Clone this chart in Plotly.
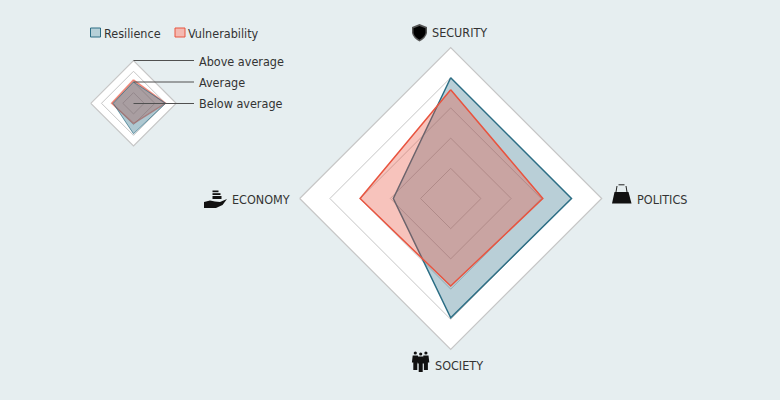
import plotly.graph_objects as go

AXES = ["SECURITY", "POLITICS", "SOCIETY", "ECONOMY"]
RESILIENCE = [4.0, 4.0, 3.95, 1.9]
VULNERABILITY = [3.6, 3.05, 2.9, 3.0]
KEY_RESILIENCE = [2.0, 3.0, 2.85, 1.9]
KEY_VULNERABILITY = [2.2, 3.0, 1.9, 2.05]
RINGS = [1, 2, 3, 4]
KEY_RINGS = [1, 2, 3]
LEGEND_NAMES = ["Resilience", "Vulnerability"]
KEY_LABELS = ["Above average", "Average", "Below average"]

W, H = 780, 400
BG = "#e6eef0"
BLUE = "#2c6e85"
RED = "#e8543f"
TEXT = "#333333"
FONT = "'DejaVu Sans Condensed', 'DejaVu Sans'"


def px_domain(cx, cy, r):
    # polar subplot box from pixel centre and radius
    return {
        "x": [(cx - r) / W, (cx + r) / W],
        "y": [1 - (cy + r) / H, 1 - (cy - r) / H],
    }


def polar_layout(cx, cy, r, top, rings):
    return dict(
        domain=px_domain(cx, cy, r),
        bgcolor="white",
        gridshape="linear",
        radialaxis=dict(
            range=[0, top],
            tickvals=rings,
            showticklabels=False,
            ticks="",
            showline=False,
            gridcolor="#c6c6c6",
            gridwidth=1.2,
        ),
        angularaxis=dict(
            categoryorder="array",
            categoryarray=AXES,
            direction="clockwise",
            rotation=90,
            showticklabels=False,
            ticks="",
            showgrid=False,
            linecolor="#c6c6c6",
            linewidth=1.2,
        ),
    )


def area(values, color, fill, subplot, width):
    return go.Scatterpolar(
        r=values + values[:1],
        theta=AXES + AXES[:1],
        mode="lines",
        fill="toself",
        fillcolor=fill,
        line={"color": color, "width": width},
        subplot=subplot,
        showlegend=False,
        hoverinfo="skip",
    )


def label(text, x, y, size=12.5, anchor="left"):
    return dict(
        text=text,
        x=x,
        y=y,
        xref="x",
        yref="y",
        xanchor=anchor,
        yanchor="middle",
        showarrow=False,
        font={"size": size, "color": TEXT, "family": FONT},
    )


def icon(path, fill="#111111", line=None, width=0):
    return dict(
        type="path",
        path=path,
        xref="x",
        yref="y",
        fillcolor=fill,
        line={"color": line or fill, "width": width},
    )


def poly(*points):
    return "M" + " L".join(f"{x} {y}" for x, y in points) + " Z"


def head(cx, cy, r=1.6):
    return dict(type="circle", x0=cx - r, x1=cx + r, y0=cy - r, y1=cy + r,
                xref="x", yref="y", fillcolor="#111111", line={"width": 0})


def person(cx, top, bottom, half):
    return icon(poly(
        (cx - half, top), (cx + half, top), (cx + half + 0.8, top + 7),
        (cx + half - 0.6, top + 7), (cx + half - 0.6, bottom),
        (cx - half + 0.6, bottom), (cx - half + 0.6, top + 7), (cx - half - 0.8, top + 7),
    ))


fig = go.Figure()
fig.add_trace(area(RESILIENCE, BLUE, "rgba(44,110,133,0.33)", "polar", 1.5))
fig.add_trace(area(VULNERABILITY, RED, "rgba(232,84,63,0.35)", "polar", 1.5))
# the key is drawn red first, its overlap comes out greyer
fig.add_trace(area(KEY_VULNERABILITY, "rgba(232,84,63,0.6)", "rgba(232,84,63,0.4)", "polar2", 1.5))
fig.add_trace(area(KEY_RESILIENCE, "rgba(44,110,133,0.7)", "rgba(44,110,133,0.38)", "polar2", 1))

# icons, in pixel coordinates on the hidden overlay axes
shapes = [
    # shield
    icon("M419.5 24 L427 27 L427 33 Q426 38 419.5 41.5 Q413 38 412 33 L412 27 Z", "#555555"),
    icon("M419.5 26 L425.5 28.2 L425.5 33 Q424.5 37 419.5 39.8 Q414.5 37 413.5 33 L413.5 28.2 Z", "#000000"),
    # bag
    icon(poly((614.5, 192), (628.5, 192), (631.5, 203.5), (612, 203.5))),
    icon("M616 192 L617 186 M627 192 L626 186 M618.5 184.8 L624.5 184.8", "rgba(0,0,0,0)", "#222222", 1),
    # hand with coins
    icon(poly((204, 202), (210, 200.5), (215, 201.5), (220, 202), (227, 199), (222.5, 205), (216, 208), (204, 208))),
    icon(poly((212.5, 190.5), (218.5, 190.5), (218.5, 192.2), (212.5, 192.2))),
    icon(poly((212.5, 193.2), (220.5, 193.2), (220.5, 195), (212.5, 195))),
    icon(poly((212.5, 196), (221.5, 196), (221.5, 199), (212.5, 199))),
    # people
    person(415.3, 355.5, 370, 2.6),
    person(425.9, 355.5, 370, 2.6),
    person(420.7, 356.5, 372, 2.6),
    head(415.3, 353),
    head(425.9, 353),
    head(420.7, 354),
]

# legend swatches
shapes.append(dict(type="rect", x0=90.5, x1=100.5, y0=28, y1=37, xref="x", yref="y",
                   fillcolor="#b6d0d8", line={"color": BLUE, "width": 1}))
shapes.append(dict(type="rect", x0=175, x1=185, y0=28, y1=37, xref="x", yref="y",
                   fillcolor="#f4b9b1", line={"color": RED, "width": 1}))

# key leader lines
for y in [60.5, 82, 103.5]:
    shapes.append(dict(type="line", x0=133.5, x1=194, y0=y, y1=y, xref="x", yref="y",
                       line={"color": "#505050", "width": 1.2}))

annotations = [
    label(LEGEND_NAMES[0], 102, 33),
    label(LEGEND_NAMES[1], 186, 33),
    label(KEY_LABELS[0], 196.5, 61),
    label(KEY_LABELS[1], 196.5, 82),
    label(KEY_LABELS[2], 196.5, 103.5),
    label(AXES[0], 429.5, 32.5),
    label(AXES[1], 634.5, 199),
    label(AXES[2], 432.5, 365.5),
    label(AXES[3], 230, 199),
]

fig.update_layout(
    width=W,
    height=H,
    margin={"l": 0, "r": 0, "t": 0, "b": 0},
    paper_bgcolor=BG,
    plot_bgcolor="rgba(0,0,0,0)",
    showlegend=False,
    polar=polar_layout(450.7, 198.5, 151, 5, RINGS),
    polar2=polar_layout(133.5, 103.3, 42.7, 4, KEY_RINGS),
    xaxis=dict(range=[0, W], visible=False, domain=[0, 1], fixedrange=True),
    yaxis=dict(range=[H, 0], visible=False, domain=[0, 1], fixedrange=True),
    shapes=shapes,
    annotations=annotations,
)

fig.write_html(
    "out.html",
    config={"displayModeBar": False},
    post_script="document.body.style.margin = '0';",
)
